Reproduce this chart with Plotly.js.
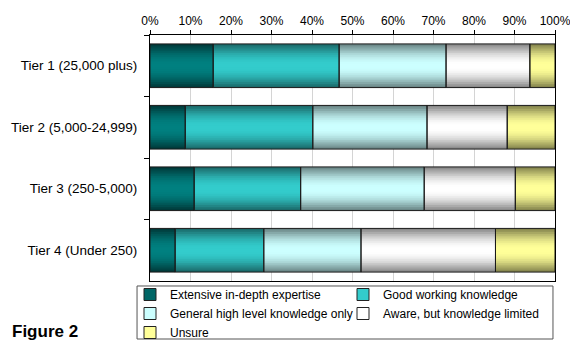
<!DOCTYPE html>
<html>
<head>
<meta charset="utf-8">
<script src="https://cdn.plot.ly/plotly-3.0.1.min.js"></script>
<style>
  html, body { margin: 0; padding: 0; background: #fff; }
  #chart { width: 570px; height: 340px; }
</style>
</head>
<body>
<div id="chart"></div>
<script>
// Organisation size tiers (top to bottom)
const tiers = ['Tier 1 (25,000 plus)', 'Tier 2 (5,000-24,999)', 'Tier 3 (250-5,000)', 'Tier 4 (Under 250)'];

// Share of respondents (%) per knowledge level
const seriesNames = [
  'Extensive in-depth expertise',
  'Good working knowledge',
  'General high level knowledge only',
  'Aware, but knowledge limited',
  'Unsure'
];
const extensive = [15.6, 8.7, 10.9, 6.2];
const goodWorking = [31.1, 31.5, 26.3, 21.9];
const generalHigh = [26.4, 28.2, 30.5, 24.0];
const awareLimited = [20.7, 19.8, 22.5, 33.2];
const unsure = [6.2, 11.8, 9.8, 14.7];

const seriesValues = [extensive, goodWorking, generalHigh, awareLimited, unsure];

// Shaded fill: edge colour -> centre colour, plus the legend swatch colour
const centreColors = ['#008080', '#33cccc', '#ccffff', '#ffffff', '#ffff99'];
const edgeColors   = ['#003a3a', '#1b6b6b', '#6b8787', '#8a8a8a', '#86864e'];
const swatchColors = ['#006666', '#33cccc', '#ccffff', '#ffffff', '#ffff99'];
// Legend column for each series (two columns, filled row by row)
const legendColumn = ['legend', 'legend2', 'legend', 'legend2', 'legend'];

const BAR_W = 0.71;
const LAYERS = 12;

function hexToRgb(h) {
  const n = parseInt(h.slice(1), 16);
  return [(n >> 16) & 255, (n >> 8) & 255, n & 255];
}
function mix(a, b, t) {
  const ca = hexToRgb(a), cb = hexToRgb(b);
  const c = ca.map((v, i) => Math.round(v + (cb[i] - v) * t));
  return 'rgb(' + c.join(',') + ')';
}

const traces = [];
const bases = seriesValues.map((vals, s) =>
  vals.map((_, i) => seriesValues.slice(0, s).reduce((acc, arr) => acc + arr[i], 0))
);

// Shaded layers: each narrower band is lighter, giving a cylinder-like look
seriesValues.forEach((vals, s) => {
  for (let k = 0; k < LAYERS; k++) {
    const t = Math.sin((Math.PI / 2) * (k / (LAYERS - 1)));
    traces.push({
      type: 'bar',
      orientation: 'h',
      y: tiers,
      x: vals,
      base: bases[s],
      width: BAR_W * (1 - k / LAYERS),
      marker: { color: mix(edgeColors[s], centreColors[s], t), line: { width: 0 } },
      showlegend: false,
      hoverinfo: 'skip'
    });
  }
});

// Segment outlines on top
seriesValues.forEach((vals, s) => {
  traces.push({
    type: 'bar',
    orientation: 'h',
    y: tiers,
    x: vals,
    base: bases[s],
    width: BAR_W,
    marker: { color: 'rgba(0,0,0,0)', line: { color: '#1a1a1a', width: 1 } },
    showlegend: false,
    hoverinfo: 'skip'
  });
});

// Legend entries
seriesNames.forEach((name, s) => {
  traces.push({
    type: 'bar',
    orientation: 'h',
    name: name,
    y: [null],
    x: [null],
    legend: legendColumn[s],
    marker: { color: swatchColors[s], line: { color: '#222', width: 1 } },
    showlegend: true
  });
});

const legendBase = {
  orientation: 'v',
  xref: 'container',
  yref: 'container',
  xanchor: 'left',
  yanchor: 'top',
  y: 1 - 280 / 340,
  traceorder: 'normal',
  borderwidth: 0,
  bgcolor: 'rgba(0,0,0,0)',
  itemwidth: 30,
  tracegroupgap: 0,
  font: { size: 12, color: '#000' }
};

const layout = {
  width: 570,
  height: 340,
  margin: { l: 150, r: 15, t: 35, b: 59, autoexpand: false },
  paper_bgcolor: '#ffffff',
  plot_bgcolor: '#ffffff',
  barmode: 'overlay',
  hovermode: false,
  font: { family: 'Liberation Sans, Arial, sans-serif', size: 12, color: '#000' },
  xaxis: {
    side: 'top',
    range: [0, 100],
    dtick: 10,
    ticksuffix: '%',
    ticks: 'outside',
    ticklen: 4,
    tickcolor: '#000',
    ticklabeloverflow: 'allow',
    showline: true,
    linecolor: '#000',
    linewidth: 1,
    mirror: true,
    showgrid: true,
    gridcolor: '#d4d4d4',
    gridwidth: 1,
    zeroline: false,
    fixedrange: true,
    tickfont: { size: 12, color: '#000' }
  },
  yaxis: {
    type: 'category',
    categoryorder: 'array',
    categoryarray: tiers,
    autorange: 'reversed',
    ticks: 'outside',
    tickson: 'boundaries',
    ticklen: 5,
    tickcolor: '#000',
    ticklabelstandoff: 9,
    showline: true,
    linecolor: '#000',
    linewidth: 1,
    mirror: true,
    showgrid: false,
    zeroline: false,
    fixedrange: true,
    tickfont: { size: 13.5, color: '#000' }
  },
  legend: Object.assign({}, legendBase, { x: 130 / 570 }),
  legend2: Object.assign({}, legendBase, { x: 343 / 570 }),
  shapes: [{
    // frame around the two legend columns
    type: 'rect',
    xref: 'paper', yref: 'paper',
    x0: -0.032, x1: 0.995,
    y0: -0.0203, y1: -0.2358,
    line: { color: '#555', width: 1 },
    fillcolor: 'rgba(0,0,0,0)'
  }],
  annotations: [{
    text: '<b>Figure 2</b>',
    xref: 'paper', yref: 'paper',
    x: -0.345, y: -0.158,
    xanchor: 'left', yanchor: 'top',
    showarrow: false,
    font: { size: 17, color: '#000' }
  }]
};

Plotly.newPlot('chart', traces, layout, { displayModeBar: false, staticPlot: true });
</script>
</body>
</html>
